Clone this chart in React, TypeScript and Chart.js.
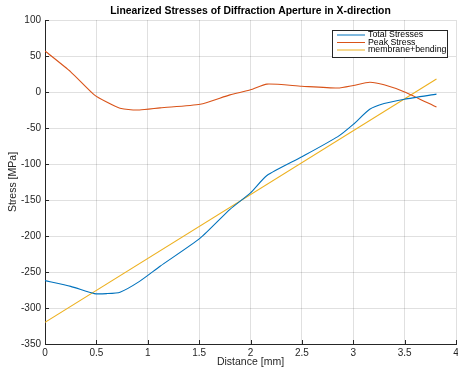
import React, { useEffect, useRef } from "react";
import { Chart, registerables } from "chart.js";

Chart.register(...registerables);

const distance = [0, 0.25, 0.48, 0.6, 0.73, 0.92, 1.12, 1.51, 1.8, 2.0, 2.16, 2.5, 2.85, 3.0, 3.16, 3.3, 3.5, 3.81];
const totalStress = [-262, -270, -280, -280, -278, -263, -242, -203, -163, -140, -116, -90, -62, -45, -24, -16, -10, -3];
const peakStress = [57, 28, -4, -14, -22.5, -25, -22, -17, -4, 3, 11, 8, 5.5, 9, 13.5, 10, 0, -21];
const mbDistance = [0, 3.81];
const mbStress = [-320, 18];

const xTicks = [0, 0.5, 1, 1.5, 2, 2.5, 3, 3.5, 4];
const yTicks = [100, 50, 0, -50, -100, -150, -200, -250, -300, -350];

const seriesNames = ["Total Stresses", "Peak Stress", "membrane+bending"];
const colors = ["#0072BD", "#D95319", "#EDB120"];
const titleText = "Linearized Stresses of Diffraction Aperture in X-direction";
const xTitle = "Distance [mm]";
const yTitle = "Stress [MPa]";

const FONT = "'Liberation Sans', Arial, Helvetica, sans-serif";

const overlay = {
  id: "overlay",
  afterDraw(chart: any) {
    const { ctx, chartArea } = chart;
    const xs = chart.scales.x;
    const ys = chart.scales.y;
    ctx.save();
    // inward ticks
    ctx.strokeStyle = "#262626";
    ctx.lineWidth = 1;
    ctx.beginPath();
    for (const t of xTicks) {
      const px = Math.round(xs.getPixelForValue(t)) + 0.5;
      ctx.moveTo(px, chartArea.bottom);
      ctx.lineTo(px, chartArea.bottom - 4);
    }
    for (const t of yTicks) {
      const py = Math.round(ys.getPixelForValue(t)) + 0.5;
      ctx.moveTo(chartArea.left, py);
      ctx.lineTo(chartArea.left + 4, py);
    }
    ctx.stroke();

    // title
    ctx.fillStyle = "#000";
    ctx.font = `bold 10.4px ${FONT}`;
    ctx.textAlign = "center";
    ctx.textBaseline = "middle";
    ctx.fillText(titleText, (chartArea.left + chartArea.right) / 2, 11);

    // axis titles
    ctx.fillStyle = "#262626";
    ctx.font = `10.5px ${FONT}`;
    ctx.fillText(xTitle, (chartArea.left + chartArea.right) / 2, 362);
    ctx.save();
    ctx.translate(13, (chartArea.top + chartArea.bottom) / 2);
    ctx.rotate(-Math.PI / 2);
    ctx.fillText(yTitle, 0, 0);
    ctx.restore();

    // legend
    const bx = 332, by = 30, bw = 115, bh = 27;
    ctx.fillStyle = "#fff";
    ctx.fillRect(bx, by, bw, bh);
    ctx.strokeStyle = "#262626";
    ctx.lineWidth = 1;
    ctx.strokeRect(bx + 0.5, by + 0.5, bw, bh);
    ctx.font = `8.8px ${FONT}`;
    ctx.textAlign = "left";
    ctx.textBaseline = "middle";
    seriesNames.forEach((name, i) => {
      const yy = by + 5 + i * 7.5;
      ctx.strokeStyle = colors[i];
      ctx.beginPath();
      ctx.moveTo(337, yy);
      ctx.lineTo(365, yy);
      ctx.stroke();
      ctx.fillStyle = "#000";
      ctx.fillText(name, 368, yy);
    });
    ctx.restore();
  },
};

export default function App() {
  const ref = useRef<HTMLCanvasElement>(null);
  useEffect(() => {
    document.body.style.margin = "0";
    const toPts = (xa: number[], ya: number[]) => xa.map((x, i) => ({ x, y: ya[i] }));
    const chart = new Chart(ref.current!, {
      type: "line",
      data: {
        datasets: [
          { label: seriesNames[0], data: toPts(distance, totalStress), borderColor: colors[0], borderWidth: 1.1, pointRadius: 0, tension: 0.2 },
          { label: seriesNames[1], data: toPts(distance, peakStress), borderColor: colors[1], borderWidth: 1.1, pointRadius: 0, tension: 0.2 },
          { label: seriesNames[2], data: toPts(mbDistance, mbStress), borderColor: colors[2], borderWidth: 1.1, pointRadius: 0 },
        ],
      },
      options: {
        responsive: false,
        animation: false,
        layout: { padding: { top: 20, right: 2, left: 0, bottom: 0 } },
        plugins: { legend: { display: false }, title: { display: false }, tooltip: { enabled: false } },
        scales: {
          x: {
            type: "linear",
            min: 0,
            max: 4,
            afterFit: (s: any) => { s.height = 29; s.paddingRight = 0; s.paddingLeft = 0; },
            afterBuildTicks: (s: any) => { s.ticks = xTicks.map((v) => ({ value: v })); },
            ticks: { font: { size: 10, family: FONT }, color: "#262626", padding: 3, callback: (v: any) => String(v) },
            grid: { color: "rgba(0,0,0,0.12)", drawTicks: false },
            border: { display: true, color: "#262626" },
          },
          y: {
            type: "linear",
            min: -350,
            max: 100,
            afterFit: (s: any) => { s.width = 45; s.paddingTop = 0; s.paddingBottom = 0; },
            afterBuildTicks: (s: any) => { s.ticks = yTicks.map((v) => ({ value: v })); },
            ticks: { font: { size: 10, family: FONT }, color: "#262626", padding: 4, callback: (v: any) => String(v) },
            grid: { color: "rgba(0,0,0,0.12)", drawTicks: false },
            border: { display: true, color: "#262626" },
          },
        },
      },
      plugins: [overlay],
    });
    return () => chart.destroy();
  }, []);
  return <canvas ref={ref} width={458} height={373} style={{ display: "block" }} />;
}
